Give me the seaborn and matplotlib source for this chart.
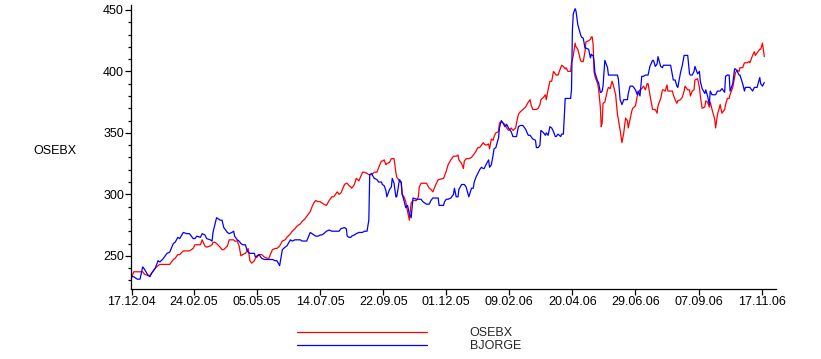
import matplotlib
matplotlib.use("Agg")
import matplotlib.pyplot as plt
from matplotlib.ticker import MultipleLocator
import seaborn as sns
import pandas as pd

# ---- data -------------------------------------------------------------
start_date = "2004-12-17"
day_offset = [
    0, 2, 6, 9, 12, 14, 18, 20, 22, 26,
    29, 31, 34, 39, 42, 46, 48, 51, 53, 57,
    61, 64, 68, 70, 72, 76, 78, 81, 83, 87,
    89, 90, 92, 94, 98, 100, 102, 106, 108, 111,
    113, 114, 117, 119, 121, 123, 126, 128, 129, 131,
    133, 136, 137, 139, 141, 144, 147, 150, 152, 156,
    159, 161, 164, 167, 170, 172, 176, 178, 181, 183,
    187, 189, 192, 194, 198, 200, 202, 204, 207, 209,
    211, 213, 216, 219, 222, 224, 228, 230, 232, 236,
    238, 239, 241, 243, 244, 247, 249, 252, 256, 258,
    261, 263, 264, 266, 269, 272, 274, 277, 278, 280,
    282, 283, 286, 288, 289, 291, 293, 294, 297, 299,
    300, 302, 304, 306, 308, 310, 312, 316, 318, 319,
    321, 323, 327, 330, 332, 334, 338, 340, 341, 346,
    347, 349, 351, 354, 357, 358, 360, 362, 363, 366,
    368, 369, 371, 374, 377, 379, 380, 382, 384, 386,
    388, 390, 391, 393, 396, 397, 399, 401, 402, 404,
    407, 408, 410, 412, 414, 416, 418, 420, 421, 423,
    426, 427, 429, 431, 434, 437, 440, 442, 443, 445,
    448, 449, 451, 453, 454, 457, 459, 460, 462, 464,
    466, 468, 470, 471, 473, 476, 477, 479, 481, 482,
    484, 487, 488, 489, 490, 492, 493, 495, 498, 499,
    501, 503, 504, 507, 509, 510, 511, 512, 513, 514,
    517, 518, 520, 521, 522, 523, 525, 528, 529, 531,
    533, 534, 537, 539, 540, 542, 544, 546, 548, 550,
    551, 553, 555, 556, 559, 561, 562, 564, 566, 568,
    570, 572, 573, 575, 578, 579, 581, 583, 584, 587,
    589, 590, 592, 594, 595, 598, 600, 601, 603, 605,
    606, 609, 611, 613, 614, 617, 619, 620, 622, 624,
    625, 628, 630, 631, 633, 636, 637, 639, 641, 642,
    644, 647, 648, 650, 652, 653, 655, 658, 659, 661,
    663, 664, 667, 669, 670, 672, 674, 675, 678, 680,
    681, 683, 685, 686, 689, 691, 692, 694, 697, 698,
    700, 702,
]
osebx = [
    233, 237, 237, 237, 237, 235, 234, 234, 236, 240,
    242, 243, 243, 243, 243, 247, 248, 251, 251, 254,
    254, 254, 256, 259, 259, 259, 263, 258, 257, 258,
    259, 261, 261, 260, 257, 255, 255, 258, 263, 263,
    263, 262, 262, 258, 250, 251, 252, 254, 256, 246,
    244, 246, 248, 249, 251, 251, 249, 248, 248, 255,
    256, 256, 258, 262, 263, 265, 268, 270, 272, 274,
    276, 278, 280, 282, 286, 290, 293, 295, 294, 294,
    293, 292, 291, 295, 298, 298, 302, 300, 301, 308,
    309, 309, 307, 306, 305, 308, 313, 311, 318, 318,
    317, 316, 316, 316, 318, 318, 322, 327, 327, 328,
    324, 325, 326, 329, 329, 329, 318, 314, 311, 309,
    300, 298, 294, 286, 279, 293, 295, 295, 298, 306,
    309, 309, 309, 305, 304, 302, 309, 312, 312, 313,
    315, 319, 324, 328, 331, 331, 331, 332, 328, 325,
    321, 327, 329, 329, 330, 332, 333, 335, 338, 338,
    340, 342, 341, 340, 341, 337, 345, 344, 347, 350,
    351, 358, 359, 358, 357, 354, 352, 353, 354, 352,
    354, 358, 365, 367, 369, 371, 375, 377, 373, 369,
    369, 369, 370, 373, 377, 379, 381, 377, 385, 392,
    392, 400, 398, 397, 397, 403, 405, 404, 402, 403,
    400, 400, 407, 410, 413, 423, 420, 418, 409, 408,
    408, 416, 424, 425, 426, 428, 428, 422, 400, 396,
    390, 386, 371, 355, 358, 374, 375, 385, 387, 386,
    392, 390, 381, 365, 361, 352, 342, 350, 362, 360,
    354, 361, 368, 370, 372, 380, 382, 385, 386, 388,
    385, 390, 390, 381, 369, 369, 369, 366, 372, 378,
    385, 385, 384, 389, 384, 384, 384, 381, 377, 374,
    376, 377, 379, 384, 388, 385, 385, 380, 384, 385,
    393, 394, 387, 380, 370, 371, 376, 375, 371, 375,
    369, 361, 354, 365, 370, 373, 366, 369, 373, 378,
    378, 381, 387, 395, 399, 401, 400, 403, 403, 407,
    407, 407, 408, 407, 413, 416, 413, 415, 418, 418,
    423, 412,
]
bjorge = [
    233, 233, 231, 231, 241, 239, 234, 233, 236, 240,
    246, 245, 247, 252, 253, 260, 261, 265, 264, 269,
    268, 268, 264, 264, 266, 265, 268, 267, 264, 263,
    262, 269, 275, 281, 279, 279, 273, 269, 268, 269,
    270, 266, 263, 262, 260, 259, 259, 254, 253, 252,
    252, 252, 249, 250, 251, 248, 247, 247, 247, 247,
    246, 246, 242, 255, 257, 258, 263, 262, 263, 263,
    263, 262, 262, 262, 269, 268, 267, 266, 266, 267,
    267, 268, 270, 271, 270, 270, 270, 270, 272, 273,
    272, 266, 265, 265, 266, 267, 268, 269, 269, 270,
    270, 279, 316, 317, 313, 312, 310, 310, 308, 307,
    303, 298, 304, 306, 313, 309, 298, 298, 312, 310,
    300, 295, 289, 291, 284, 281, 297, 296, 296, 296,
    296, 294, 292, 292, 295, 297, 297, 297, 291, 291,
    294, 296, 296, 297, 300, 305, 298, 298, 304, 308,
    308, 308, 306, 298, 305, 305, 310, 314, 317, 320,
    322, 321, 321, 324, 328, 322, 324, 332, 337, 338,
    346, 354, 360, 358, 355, 357, 354, 352, 351, 347,
    347, 347, 355, 356, 356, 353, 348, 348, 347, 345,
    344, 338, 338, 340, 352, 350, 348, 350, 348, 355,
    354, 351, 347, 347, 349, 347, 349, 349, 378, 378,
    378, 378, 385, 434, 447, 451, 449, 438, 430, 428,
    427, 419, 419, 418, 411, 414, 413, 413, 408, 399,
    392, 391, 383, 383, 384, 388, 409, 403, 397, 397,
    397, 397, 397, 397, 394, 377, 373, 377, 377, 377,
    382, 388, 388, 388, 385, 381, 384, 380, 396, 396,
    397, 397, 397, 404, 409, 409, 404, 406, 412, 404,
    403, 405, 405, 405, 405, 405, 397, 393, 393, 388,
    387, 399, 405, 413, 413, 413, 398, 397, 397, 400,
    404, 398, 400, 392, 386, 382, 385, 380, 373, 384,
    381, 381, 381, 384, 384, 384, 386, 383, 396, 397,
    397, 384, 390, 402, 402, 400, 397, 397, 390, 384,
    387, 387, 387, 387, 384, 387, 387, 387, 395, 390,
    388, 391,
]
series_names = ["OSEBX", "BJORGE"]
series_colors = ["#ff0000", "#0000ff"]
tick_labels = ["17.12.04", "24.02.05", "05.05.05", "14.07.05", "22.09.05",
               "01.12.05", "09.02.06", "20.04.06", "29.06.06", "07.09.06",
               "17.11.06"]
y_label = "OSEBX"

assert len(day_offset) == len(osebx) == len(bjorge)

# ---- build long table -----------------------------------------------
dates = pd.Timestamp(start_date) + pd.to_timedelta(day_offset, unit="D")
df = pd.concat([
    pd.DataFrame({"date": dates, "value": osebx, "series": series_names[0]}),
    pd.DataFrame({"date": dates, "value": bjorge, "series": series_names[1]}),
], ignore_index=True)

# ---- style ------------------------------------------------------------
sns.set_theme(style="white")
plt.rcParams["font.family"] = ["Liberation Sans", "DejaVu Sans"]

W, H = 821, 359
fig = plt.figure(figsize=(W / 100, H / 100), dpi=100)
ax = fig.add_axes([131 / W, 1 - 289 / H, 645 / W, 284 / H])

sns.lineplot(data=df, x="date", y="value", hue="series",
             hue_order=series_names,
             palette=dict(zip(series_names, series_colors)),
             estimator=None, linewidth=0.9, ax=ax)

handles, labels = ax.get_legend_handles_labels()
ax.get_legend().remove()

tick_dates = pd.to_datetime(tick_labels, format="%d.%m.%y")
ax.set_xticks(tick_dates)
ax.set_xticklabels(tick_labels)
ax.set_xlim(pd.Timestamp(start_date) - pd.Timedelta(days=1),
            pd.Timestamp(start_date) + pd.Timedelta(days=715))
ax.set_ylim(223, 454)
ax.yaxis.set_major_locator(MultipleLocator(50))
ax.yaxis.set_minor_locator(MultipleLocator(10))

for s in ["top", "right"]:
    ax.spines[s].set_visible(False)
for s in ["left", "bottom"]:
    ax.spines[s].set_color("black")
    ax.spines[s].set_linewidth(0.9)

ax.tick_params(axis="both", which="major", direction="out", length=4,
               width=0.9, color="black", labelsize=9, labelcolor="black",
               left=True, bottom=True)
ax.tick_params(axis="x", pad=1)
ax.tick_params(axis="y", pad=1)
ax.tick_params(axis="y", which="minor", direction="out", length=2.5,
               width=0.9, color="black", left=True)

ax.set_xlabel("")
ax.set_ylabel(y_label, rotation=0, fontsize=9, color="black",
              ha="center", va="center")
ax.yaxis.set_label_coords(-0.118, 0.485)

fig.legend(handles, labels, loc="upper left",
           bbox_to_anchor=(297 / W, 1 - 327 / H),
           frameon=False, fontsize=9, handlelength=10.4,
           handletextpad=3.4, labelspacing=0.1, borderpad=0,
           borderaxespad=0)

fig.savefig("out.png", dpi=100)
